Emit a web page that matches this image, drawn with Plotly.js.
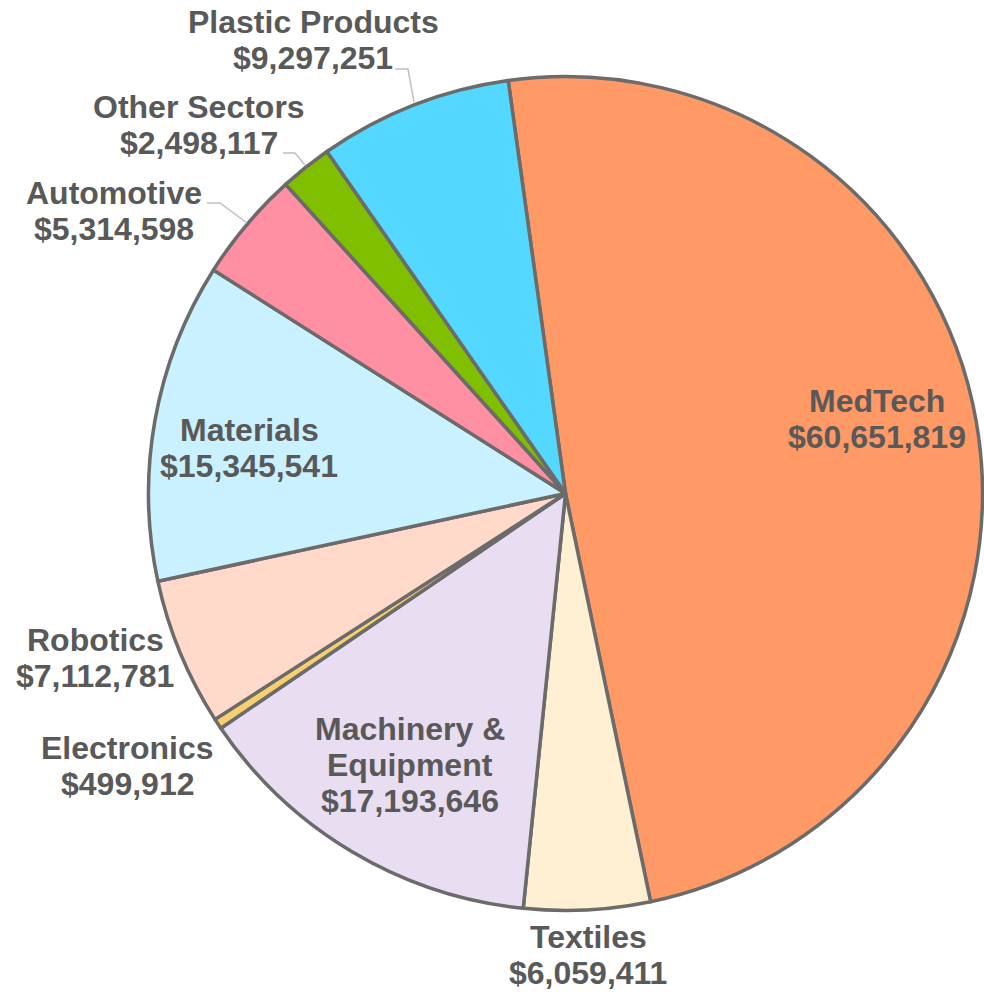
<!DOCTYPE html>
<html>
<head>
<meta charset="utf-8">
<script src="https://cdn.plot.ly/plotly-3.0.1.min.js"></script>
<style>
  html, body { margin: 0; padding: 0; background: #ffffff; }
  #chart { width: 984px; height: 993px; }
</style>
</head>
<body>
<div id="chart"></div>
<script>
// sectors, clockwise from MedTech
var sectors = ['MedTech', 'Textiles', 'Machinery &<br>Equipment', 'Electronics', 'Robotics',
               'Materials', 'Automotive', 'Other Sectors', 'Plastic Products'];
var amounts = [60651819, 6059411, 17193646, 499912, 7112781, 15345541, 5314598, 2498117, 9297251];
var sliceColors = ['#FF9966', '#FFF0D4', '#E9DDF2', '#F7CF6E', '#FFDACB',
                   '#C9F1FF', '#FF8FA3', '#80BE00', '#55D8FF'];

// label block anchors in pixels: centre x, first line y
var labelX = [877, 588, 410, 127, 95, 249, 114, 199, 313];
var labelY = [401, 937, 729, 748, 640, 430, 193, 107, 22];
var lineGap = 36;

// leader lines (pixel polylines)
var leaders = [
  [[395, 69], [408, 69], [414, 102]],
  [[283, 153], [295, 153], [305, 165]],
  [[207, 203], [220, 203], [247, 223]]
];

var W = 984, H = 993;
function px(x) { return x / W; }
function py(y) { return 1 - y / H; }

function money(v) {
  return '$' + v.toString().replace(/\B(?=(\d{3})+(?!\d))/g, ',');
}

var labelFont = {
  family: '"Liberation Sans", Arial, sans-serif',
  size: 32,
  color: '#595959',
  weight: 'bold'
};

var annotations = [];
for (var i = 0; i < sectors.length; i++) {
  var lines = sectors[i].split('<br>');
  lines.push(money(amounts[i]));
  for (var j = 0; j < lines.length; j++) {
    annotations.push({
      text: '<b>' + lines[j] + '</b>',
      x: px(labelX[i]),
      y: py(labelY[i] + j * lineGap),
      xref: 'paper',
      yref: 'paper',
      xanchor: 'center',
      yanchor: 'middle',
      showarrow: false,
      font: labelFont
    });
  }
}

var shapes = leaders.map(function (pts) {
  var d = pts.map(function (p, k) {
    return (k ? 'L' : 'M') + px(p[0]) + ',' + py(p[1]);
  }).join(' ');
  return {
    type: 'path',
    path: d,
    xref: 'paper',
    yref: 'paper',
    line: { color: '#BFBFBF', width: 1.5 }
  };
});

var cx = 565.5, cy = 493.5, r = 417;

var data = [{
  type: 'pie',
  labels: sectors,
  values: amounts,
  sort: false,
  direction: 'clockwise',
  rotation: -7.9,
  textinfo: 'none',
  hoverinfo: 'label+value',
  marker: {
    colors: sliceColors,
    line: { color: '#6B6B6B', width: 3.5 }
  },
  domain: {
    x: [px(cx - r), px(cx + r)],
    y: [py(cy + r), py(cy - r)]
  }
}];

var layout = {
  width: W,
  height: H,
  margin: { l: 0, r: 0, t: 0, b: 0 },
  showlegend: false,
  paper_bgcolor: '#ffffff',
  annotations: annotations,
  shapes: shapes
};

Plotly.newPlot('chart', data, layout, { displayModeBar: false, staticPlot: true });
</script>
</body>
</html>
